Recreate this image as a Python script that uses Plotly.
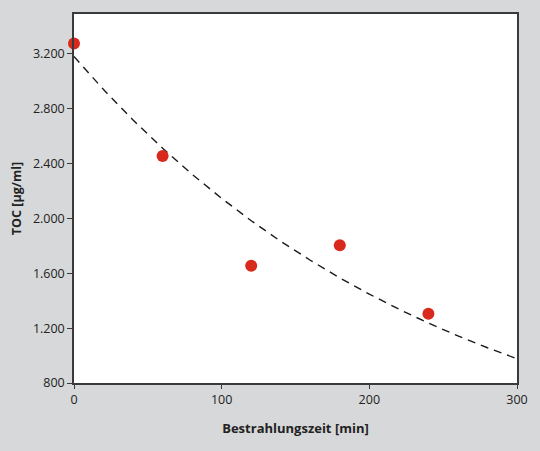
import plotly.graph_objects as go

# measured TOC values
time_min = [0, 60, 120, 180, 240]
toc = [3275, 2455, 1655, 1805, 1305]

# dashed fit curve
fit_x = [0, 20, 40, 60, 80, 100, 120, 140, 160, 180, 200, 220, 240, 260, 280, 300]
fit_y = [3180, 2939, 2717, 2512, 2321, 2146, 1983, 1833, 1695, 1566, 1448, 1338, 1237, 1143, 1057, 977]

y_ticks = [800, 1200, 1600, 2000, 2400, 2800, 3200]
x_ticks = [0, 100, 200, 300]

bg = "#d7d8d9"
axis_col = "#3a3a3a"
font = "Open Sans"

fig = go.Figure()

fig.add_trace(go.Scatter(x=fit_x, y=fit_y, mode="lines",
                         line=dict(color="#1a1a1a", width=1.4, dash="8px,6px"),
                         hoverinfo="skip", showlegend=False))

fig.add_trace(go.Scatter(x=time_min, y=toc, mode="markers",
                         marker=dict(color="#d9291c", size=12),
                         cliponaxis=False, showlegend=False))

fig.update_layout(
    width=540, height=451,
    margin=dict(l=74, r=20, t=13, b=68),
    paper_bgcolor=bg, plot_bgcolor="white",
    separators=",.",
    font=dict(family=font, size=12.5, color="#222"),
)

fig.update_xaxes(range=[0, 300], tickvals=x_ticks, showgrid=False, zeroline=False,
                 showline=True, linecolor=axis_col, linewidth=1.5, mirror=True,
                 ticks="outside", ticklen=4, tickcolor=axis_col,
                 title=dict(text="<b>Bestrahlungszeit [min]</b>", standoff=17,
                            font=dict(family=font, size=13)))

fig.update_yaxes(range=[800, 3490], tickvals=y_ticks, tickformat=",d",
                 showgrid=False, zeroline=False,
                 showline=True, linecolor=axis_col, linewidth=1.5, mirror=True,
                 ticks="outside", ticklen=5, tickcolor=axis_col,
                 title=dict(text="<b>TOC [µg/ml]</b>", standoff=9,
                            font=dict(family=font, size=12.5)))

# page body has a default 8px margin; drop it so the chart sits at 0,0
fig.write_html("out.html", config={"displayModeBar": False},
               post_script="document.body.style.margin='0';")
